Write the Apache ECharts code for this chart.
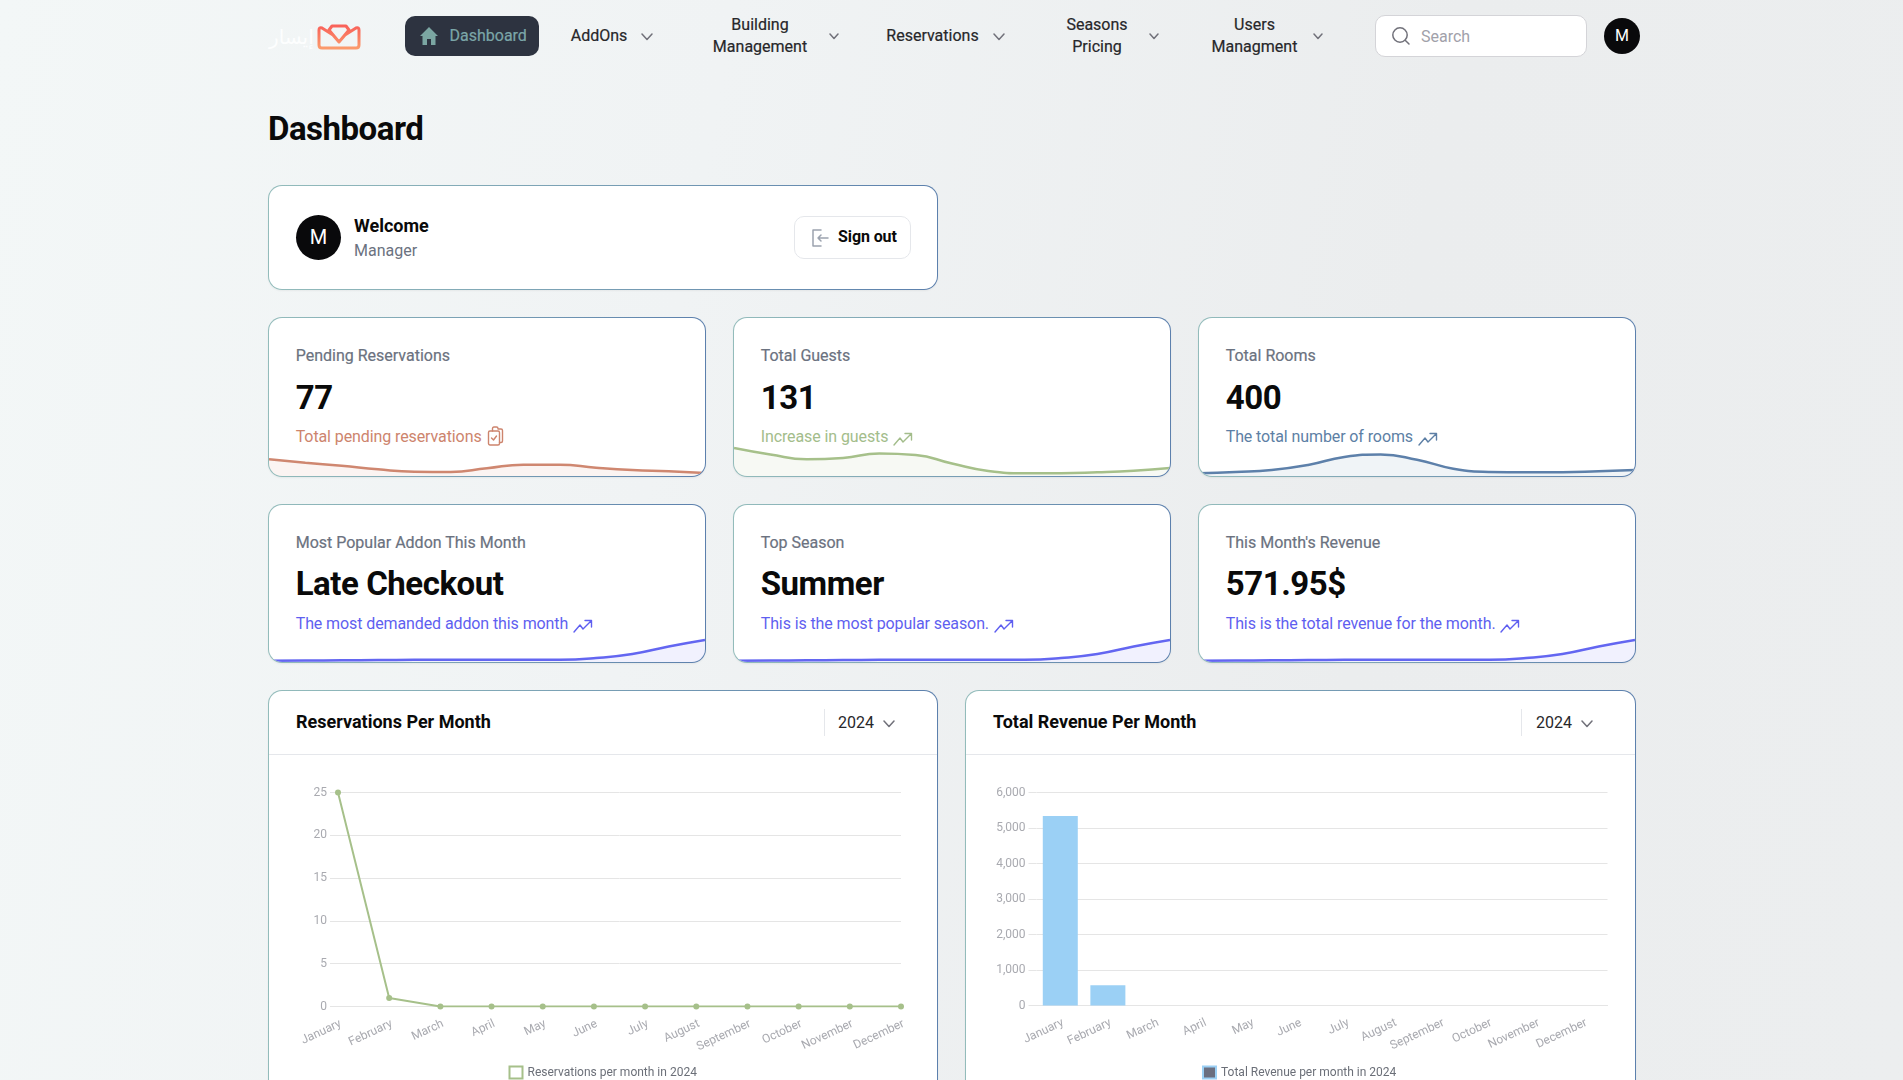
<!DOCTYPE html>
<html>
<head>
<meta charset="utf-8">
<title>Dashboard</title>
<script src="https://cdn.jsdelivr.net/npm/echarts@6/dist/echarts.min.js"></script>
<style>
	html, body { margin: 0; padding: 0; }
	body {
		width: 1903px; height: 1080px; overflow: hidden; position: relative;
		font-family: Roboto, sans-serif;
		background: linear-gradient(100deg, #f3f7f7 0%, #f0f3f4 35%, #ebedee 70%, #eceeef 100%);
	}
	.abs { position: absolute; white-space: nowrap; }
	.nav { font-size: 16px; font-weight: 400; color: #27272a; line-height: 22px; text-align: center; transform: translateX(-50%); -webkit-text-stroke: .2px #27272a; }
	.chev { position: absolute; fill: none; stroke: #71717a; stroke-width: 1.5; stroke-linecap: round; stroke-linejoin: round; }
	.card {
		position: absolute; box-sizing: border-box; overflow: hidden;
		border: 1px solid transparent; border-radius: 14px;
		background: linear-gradient(#fff, #fff) padding-box, linear-gradient(90deg, #93bcbb, #5c80ad) border-box;
		box-shadow: 0 1px 2px rgba(0,0,0,.05);
	}
	.label { position: absolute; left: 26.7px; top: 26px; font-size: 16px; line-height: 24px; color: #6b7280; white-space: nowrap; -webkit-text-stroke: .2px #6b7280; }
	.value { position: absolute; left: 26.7px; top: 60px; font-size: 33px; font-weight: 700; line-height: 40px; color: #0a0a0a; letter-spacing: -.45px; white-space: nowrap; }
	.sub { position: absolute; left: 26.7px; top: 107px; font-size: 16px; line-height: 24px; letter-spacing: -.1px; white-space: nowrap; }
	.sub svg { vertical-align: -4px; margin-left: 1px; fill: none; stroke: currentColor; stroke-width: 1.4; stroke-linecap: round; stroke-linejoin: round; }
	.spark { position: absolute; left: 0; right: 0; bottom: 0; height: 40px; }
	.ctitle { position: absolute; font-size: 18px; font-weight: 700; line-height: 24px; color: #0a0a0a; white-space: nowrap; }
	.year { position: absolute; font-size: 16px; line-height: 24px; color: #27272a; }
	.vline { position: absolute; width: 1px; height: 27px; background: #e5e7eb; }
	.hline { position: absolute; height: 1px; background: #e5e7eb; }
</style>
</head>
<body>
	<!-- top bar -->
	<div class="abs" style="left:269px;top:22px;font:20px/30px 'DejaVu Sans',sans-serif;color:#fdfefe;">إيسار</div>
	<svg class="abs" style="left:316px;top:23px" width="46" height="27" viewBox="0 0 46 27" fill="none" stroke-width="3" stroke-linejoin="round" stroke-linecap="round">
		<defs><linearGradient id="lg" x1="0" y1="0" x2="0" y2="1"><stop offset="0" stop-color="#f9625a"/><stop offset="1" stop-color="#fb9a6c"/></linearGradient></defs>
		<path stroke="url(#lg)" d="M3 7 L3 22 Q3 25 6 25 L40 25 Q43 25 43 22 L43 7 Q43 4 40 5 L29 12 L23 19 L17 12 L6 5 Q3 4 3 7 Z M16 3 L30 3 L33 7 L23 19 L13 7 Z"/>
	</svg>

	<div class="abs" style="left:405px;top:16px;width:134px;height:40px;border-radius:10px;background:#2d3340;"></div>
	<svg class="abs" style="left:419px;top:26px" width="20" height="20" viewBox="0 0 20 20"><path fill="#7ba6a2" d="M10 1 L19 10 L16.5 10 L16.5 19 L12 19 L12 13 L8 13 L8 19 L3.5 19 L3.5 10 L1 10 Z"/></svg>
	<div class="abs" style="left:449.5px;top:24px;font-size:16px;line-height:24px;color:#7ba6a8;-webkit-text-stroke:.2px #7ba6a8;">Dashboard</div>

	<div class="abs nav" style="left:599px;top:25px;">AddOns</div>
	<svg class="chev" style="left:641px;top:33px" width="12" height="8" viewBox="0 0 12 8"><path d="M1 1 L6 6.5 L11 1"/></svg>
	<div class="abs nav" style="left:760px;top:14px;">Building<br>Management</div>
	<svg class="chev" style="left:829px;top:33px" width="10" height="7" viewBox="0 0 10 7"><path d="M1 1 L5 5.5 L9 1"/></svg>
	<div class="abs nav" style="left:932.5px;top:25px;">Reservations</div>
	<svg class="chev" style="left:993px;top:33px" width="12" height="8" viewBox="0 0 12 8"><path d="M1 1 L6 6.5 L11 1"/></svg>
	<div class="abs nav" style="left:1097px;top:14px;">Seasons<br>Pricing</div>
	<svg class="chev" style="left:1149px;top:33px" width="10" height="7" viewBox="0 0 10 7"><path d="M1 1 L5 5.5 L9 1"/></svg>
	<div class="abs nav" style="left:1254.5px;top:14px;">Users<br>Managment</div>
	<svg class="chev" style="left:1313px;top:33px" width="10" height="7" viewBox="0 0 10 7"><path d="M1 1 L5 5.5 L9 1"/></svg>

	<div class="abs" style="left:1375px;top:15px;width:212px;height:42px;box-sizing:border-box;border:1px solid #d4d4d8;border-radius:10px;background:#fff;"></div>
	<svg class="abs" style="left:1391px;top:26px;fill:none;stroke:#71717a;stroke-width:1.5;stroke-linecap:round" width="20" height="20" viewBox="0 0 20 20"><circle cx="9" cy="9" r="7.2"/><path d="M14.2 14.2 L18 18"/></svg>
	<div class="abs" style="left:1421px;top:25px;font-size:16px;line-height:24px;color:#a1a1aa;">Search</div>
	<div class="abs" style="left:1604px;top:18px;width:36px;height:36px;border-radius:50%;background:#09090b;color:#fff;font-size:16px;line-height:36px;text-align:center;">M</div>

	<div class="abs" style="left:268px;top:109px;font-size:33px;font-weight:700;line-height:40px;color:#0a0a0a;letter-spacing:-.5px;">Dashboard</div>

	<!-- welcome -->
	<div class="card" style="left:268px;top:185px;width:670px;height:105px;">
		<div class="abs" style="left:27px;top:29px;width:45px;height:45px;border-radius:50%;background:#09090b;color:#fff;font-size:20px;line-height:45px;text-align:center;">M</div>
		<div class="abs" style="left:85px;top:28px;font-size:18px;font-weight:700;line-height:24px;color:#0a0a0a;">Welcome</div>
		<div class="abs" style="left:85px;top:53px;font-size:16px;line-height:24px;color:#6b7280;">Manager</div>
		<div class="abs" style="left:525px;top:30px;width:117px;height:43px;box-sizing:border-box;border:1px solid #e5e7eb;border-radius:10px;"></div>
		<svg class="abs" style="left:541px;top:42px;fill:none;stroke:#9ca3af;stroke-width:1.5;stroke-linecap:round;stroke-linejoin:round" width="20" height="20" viewBox="0 0 20 20"><path d="M11 2 L3 2 L3 18 L11 18 M8 10 L18 10 M8 10 L11 7 M8 10 L11 13"/></svg>
		<div class="abs" style="left:569px;top:39px;font-size:16px;font-weight:700;line-height:24px;letter-spacing:-.1px;color:#0a0a0a;">Sign out</div>
	</div>

	<!-- stat cards -->
	<svg width="0" height="0" style="position:absolute">
		<symbol id="trend" viewBox="0 0 20 14"><path d="M1 13 L7 6 L10 10 L18 2 M12 1.5 L18.5 1.5 L18.5 8"/></symbol>
		<symbol id="clip" viewBox="0 0 16 20"><rect x="1" y="5" width="11" height="14" rx="1.5"/><path d="M5 5 L5 2.5 Q5 1 6.5 1 L9 1 Q10.5 1 10.5 2.5 L10.5 3 L13.5 3 Q15 3 15 4.5 L15 15 Q15 16.5 13.5 16.5 L12 16.5 M4 12 L6 14 L9 10"/></symbol>
	</svg>

	<div class="card" style="left:268px;top:317px;width:438px;height:160px;">
		<div class="label">Pending Reservations</div><div class="value">77</div>
		<div class="sub" style="color:#cd846d;">Total pending reservations <svg width="17" height="20" style="margin-left:2px"><use href="#clip"/></svg></div>
		<div class="spark" id="spark0"></div>
	</div>
	<div class="card" style="left:733px;top:317px;width:438px;height:160px;">
		<div class="label">Total Guests</div><div class="value">131</div>
		<div class="sub" style="color:#a3bd8b;">Increase in guests <svg width="20" height="14"><use href="#trend"/></svg></div>
		<div class="spark" id="spark1"></div>
	</div>
	<div class="card" style="left:1198px;top:317px;width:438px;height:160px;">
		<div class="label">Total Rooms</div><div class="value">400</div>
		<div class="sub" style="color:#5d7fa5;">The total number of rooms <svg width="20" height="14"><use href="#trend"/></svg></div>
		<div class="spark" id="spark2"></div>
	</div>
	<div class="card" style="left:268px;top:504px;width:438px;height:159px;">
		<div class="label">Most Popular Addon This Month</div><div class="value" style="top:59px">Late Checkout</div>
		<div class="sub" style="color:#5f5ff0;">The most demanded addon this month <svg width="20" height="14"><use href="#trend"/></svg></div>
		<div class="spark" id="spark3"></div>
	</div>
	<div class="card" style="left:733px;top:504px;width:438px;height:159px;">
		<div class="label">Top Season</div><div class="value" style="top:59px">Summer</div>
		<div class="sub" style="color:#5f5ff0;">This is the most popular season. <svg width="20" height="14"><use href="#trend"/></svg></div>
		<div class="spark" id="spark4"></div>
	</div>
	<div class="card" style="left:1198px;top:504px;width:438px;height:159px;">
		<div class="label">This Month's Revenue</div><div class="value" style="top:59px">571.95$</div>
		<div class="sub" style="color:#5f5ff0;">This is the total revenue for the month. <svg width="20" height="14"><use href="#trend"/></svg></div>
		<div class="spark" id="spark5"></div>
	</div>

	<!-- chart cards -->
	<div class="card" style="left:268px;top:690px;width:670px;height:430px;">
		<div class="ctitle" style="left:27px;top:19px;">Reservations Per Month</div>
		<div class="vline" style="left:555px;top:18px;"></div>
		<div class="year" style="left:569px;top:20px;">2024</div>
		<svg class="chev" style="left:614px;top:29px" width="12" height="8" viewBox="0 0 12 8"><path d="M1 1 L6 6.5 L11 1"/></svg>
		<div class="hline" style="left:0;right:0;top:63px;"></div>
		<div id="lineChart" style="position:absolute;left:0;top:64px;width:668px;height:345px;"></div>
	</div>
	<div class="card" style="left:965px;top:690px;width:671px;height:430px;">
		<div class="ctitle" style="left:27px;top:19px;">Total Revenue Per Month</div>
		<div class="vline" style="left:555px;top:18px;"></div>
		<div class="year" style="left:570px;top:20px;">2024</div>
		<svg class="chev" style="left:615px;top:29px" width="12" height="8" viewBox="0 0 12 8"><path d="M1 1 L6 6.5 L11 1"/></svg>
		<div class="hline" style="left:0;right:0;top:63px;"></div>
		<div id="barChart" style="position:absolute;left:0;top:64px;width:669px;height:345px;"></div>
	</div>

	<script type="text/javascript">
		var months = ['January', 'February', 'March', 'April', 'May', 'June', 'July', 'August', 'September', 'October', 'November', 'December'];
		var reservations = [25, 1, 0, 0, 0, 0, 0, 0, 0, 0, 0, 0];
		var revenue = [5340, 571.95, 0, 0, 0, 0, 0, 0, 0, 0, 0, 0];

		// sparkline readings, height above the card's lower edge
		var sparkPending = [16.7, 13.3, 10.3, 6.7, 4.3, 4, 7.7, 11.3, 11.3, 8.3, 6, 4.7, 3];
		var sparkGuests = [28, 21.5, 16.7, 18, 22.5, 21, 12.5, 5, 2.7, 2.7, 3.7, 5.3, 8];
		var sparkRooms = [2.7, 4, 6, 11, 19, 21.5, 16.3, 7.3, 4, 3.7, 3.7, 4.7, 6];
		var sparkAddon = [1.3, 1.5, 1.7, 2, 2.2, 2.3, 2.3, 2.2, 2.3, 4, 8, 15.5, 22];
		var sparkSeason = [1.3, 1.5, 1.7, 2, 2.2, 2.3, 2.3, 2.2, 2.3, 4, 8, 15.5, 22];
		var sparkRevenue = [1.3, 1.5, 1.7, 2, 2.2, 2.3, 2.3, 2.2, 2.3, 4, 8, 15.5, 22];

		var sparkValues = [sparkPending, sparkGuests, sparkRooms, sparkAddon, sparkSeason, sparkRevenue];
		var sparkColors = ['#cf8770', '#a6c08a', '#5d80aa', '#6366f1', '#6366f1', '#6366f1'];

		var tickColor = '#a9aab0';
		var gridColor = '#e5e5e5';

		sparkValues.forEach(function(values, i) {
			var chart = echarts.init(document.getElementById('spark' + i));
			chart.setOption({
				animation: false,
				grid: { left: 0, right: 0, top: 0, bottom: 0 },
				xAxis: { type: 'category', show: false, boundaryGap: false, data: values.map(function(v, k) { return k; }) },
				yAxis: { type: 'value', show: false, min: 0, max: 40 },
				series: [{
					type: 'line',
					data: values,
					smooth: true,
					symbol: 'none',
					lineStyle: { color: sparkColors[i], width: 2.5 },
					areaStyle: { color: sparkColors[i], opacity: 0.09 }
				}]
			});
		});

		function baseOption(grid, yMax, yStep, legend) {
			return {
				animation: false,
				grid: grid,
				legend: legend,
				xAxis: {
					type: 'category',
					data: months,
					axisLine: { lineStyle: { color: gridColor } },
					axisTick: { show: false },
					axisLabel: { color: tickColor, fontSize: 12, fontFamily: 'Roboto', rotate: 25, margin: 18, padding: [0, -3, 0, 0], interval: 0 }
				},
				yAxis: {
					type: 'value',
					min: 0,
					max: yMax,
					interval: yStep,
					axisLine: { show: false },
					axisTick: { show: true, length: 8, lineStyle: { color: gridColor } },
					axisLabel: {
						color: tickColor, fontSize: 12, fontFamily: 'Roboto', margin: 11, padding: [0, 0, 2, 0],
						formatter: function(v) { return v.toLocaleString('en-US'); }
					},
					splitLine: { lineStyle: { color: gridColor } }
				}
			};
		}

		var lineOption = baseOption({ left: 69, right: 36, top: 37.5, height: 214 }, 25, 5, {
			left: 234.5, top: 305.5, itemWidth: 13, itemHeight: 12, itemGap: 5,
			textStyle: { color: '#6b6f78', fontSize: 12, fontFamily: 'Roboto' },
			data: [{ name: 'Reservations per month in 2024', icon: 'rect', itemStyle: { color: '#fff', borderColor: '#a6c08a', borderWidth: 2 } }]
		});
		lineOption.xAxis.boundaryGap = false;
		lineOption.series = [{
			name: 'Reservations per month in 2024',
			type: 'line',
			data: reservations,
			symbol: 'circle',
			symbolSize: 6,
			lineStyle: { color: '#a6c08a', width: 2 },
			itemStyle: { color: '#a6c08a' }
		}];
		echarts.init(document.getElementById('lineChart')).setOption(lineOption);

		var barOption = baseOption({ left: 70.5, right: 27.5, top: 37.5, height: 213 }, 6000, 1000, {
			left: 231, top: 305.5, itemWidth: 13, itemHeight: 12, itemGap: 5,
			textStyle: { color: '#6b6f78', fontSize: 12, fontFamily: 'Roboto' },
			data: [{ name: 'Total Revenue per month in 2024', icon: 'rect', itemStyle: { color: '#6b6f80', borderColor: '#9bd0f5', borderWidth: 2 } }]
		});
		barOption.series = [{
			name: 'Total Revenue per month in 2024',
			type: 'bar',
			data: revenue,
			barWidth: 35,
			itemStyle: { color: '#9bd0f5' }
		}];
		echarts.init(document.getElementById('barChart')).setOption(barOption);
	</script>
</body>
</html>
